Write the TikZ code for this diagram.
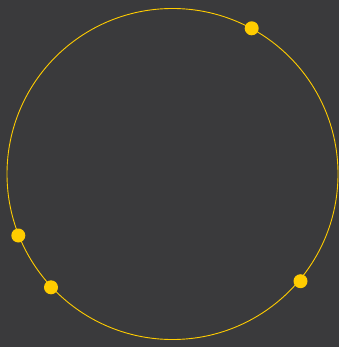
\documentclass[tikz,border=0pt]{standalone}
\definecolor{bg}{HTML}{3A3A3C}
\definecolor{gold}{HTML}{FFCC00}
\tikzset{dot/.style={circle,fill=gold,inner sep=0pt,minimum size=14pt}}
\begin{document}
\begin{tikzpicture}[x=1pt,y=-1pt]
\fill[bg] (0,0) rectangle (339,347);
\useasboundingbox (0,0) rectangle (339,347);
\node[circle,draw=gold,line width=0.9pt,minimum size=331pt,inner sep=0pt] (ring) at (172.5,174) {};
\node[dot] (d1) at (251.7,28.3) {};
\node[dot] (d2) at (18.3,235.5) {};
\node[dot] (d3) at (51,287.3) {};
\node[dot] (d4) at (300.5,281.2) {};
\end{tikzpicture}
\end{document}
